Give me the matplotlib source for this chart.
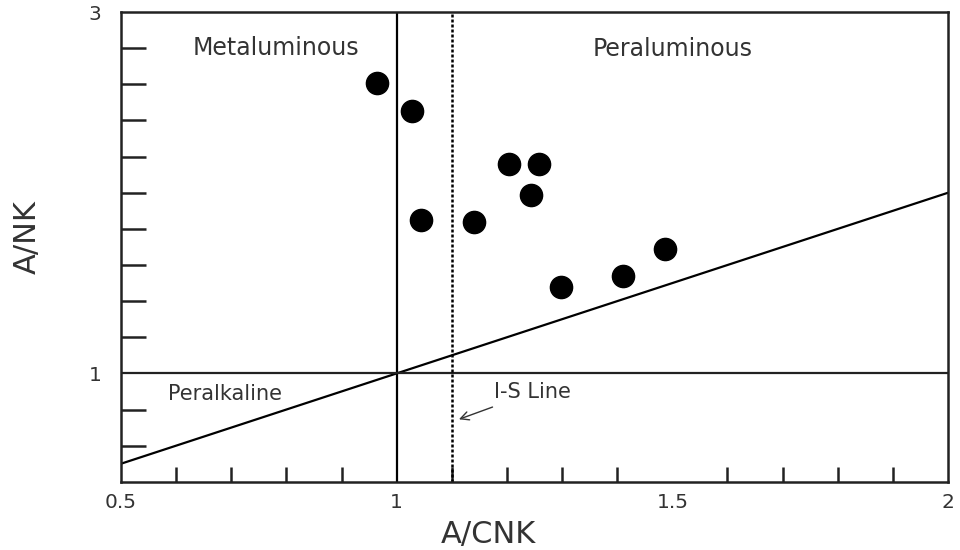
import matplotlib
matplotlib.use("Agg")
import matplotlib.pyplot as plt
import numpy as np

plt.rcParams['font.family'] = ['DejaVu Sans']

# Data (A/CNK, A/NK)
acnk = [0.965, 1.027, 1.045, 1.141, 1.204, 1.258, 1.244, 1.298, 1.411, 1.487]
ank = [2.61, 2.45, 1.85, 1.84, 2.16, 2.16, 1.99, 1.48, 1.54, 1.69]

x_ticks = [0.5, 1.0, 1.5, 2.0]
x_tick_labels = ["0.5", "1", "1.5", "2"]
y_ticks = [1, 3]
y_tick_labels = ["1", "3"]
boundary_x = [0.5, 2.0]  # A/NK = A/CNK line
is_line_x = 1.1

fig = plt.figure(figsize=(9.6, 5.5), dpi=100)
ax = fig.add_axes([0.126, 0.124, 0.8615, 0.854])

ax.set_xlim(0.5, 2.0)
ax.set_ylim(0.4, 3.0)

# Boundary lines
ax.plot(boundary_x, boundary_x, color='black', lw=1.6)
ax.axvline(1.0, color='black', lw=1.6)
ax.axhline(1.0, color='#222222', lw=1.6)
ax.axvline(is_line_x, color='black', lw=1.8, linestyle=(0, (1.2, 0.8)))

ax.plot(acnk, ank, 'o', color='black', markersize=16, zorder=5)

# Ticks
ax.set_xticks(x_ticks)
ax.set_xticklabels(x_tick_labels)
ax.set_xticks(np.arange(0.6, 2.0, 0.1), minor=True)
ax.set_yticks(y_ticks)
ax.set_yticklabels(y_tick_labels)
ax.set_yticks([0.6, 0.8, 1.2, 1.4, 1.6, 1.8, 2.0, 2.2, 2.4, 2.6, 2.8], minor=True)
ax.tick_params(axis='both', which='both', direction='in', width=1.8, color='#222222',
               labelcolor='#333333', labelsize=14.5)
ax.tick_params(axis='x', which='major', length=0, pad=8)
ax.tick_params(axis='x', which='minor', length=11)
ax.tick_params(axis='y', which='major', length=0, pad=14)
ax.tick_params(axis='y', which='minor', length=18)
ax.tick_params(top=False, right=False)

for s in ax.spines.values():
    s.set_linewidth(1.8)
    s.set_color('#222222')

ax.set_xlabel("A/CNK", fontsize=22, color='#333333', va='center')
ax.xaxis.set_label_coords(0.444, -0.113)
ax.set_ylabel("A/NK", fontsize=22, color='#333333', va='center')
ax.yaxis.set_label_coords(-0.113, 0.522)

# Region labels
ax.text(0.781, 2.80, "Metaluminous", fontsize=17, color='#333333', ha='center', va='center')
ax.text(1.50, 2.795, "Peraluminous", fontsize=17, color='#333333', ha='center', va='center')
ax.text(0.689, 0.885, "Peralkaline", fontsize=15, color='#333333', ha='center', va='center')
ax.annotate("I-S Line", xy=(1.113, 0.746), xytext=(1.247, 0.895),
            fontsize=15, color='#333333', ha='center', va='center',
            arrowprops=dict(arrowstyle='->', color='#333333', lw=1.0,
                            shrinkA=4, shrinkB=0))

fig.savefig("out.png", dpi=100)
